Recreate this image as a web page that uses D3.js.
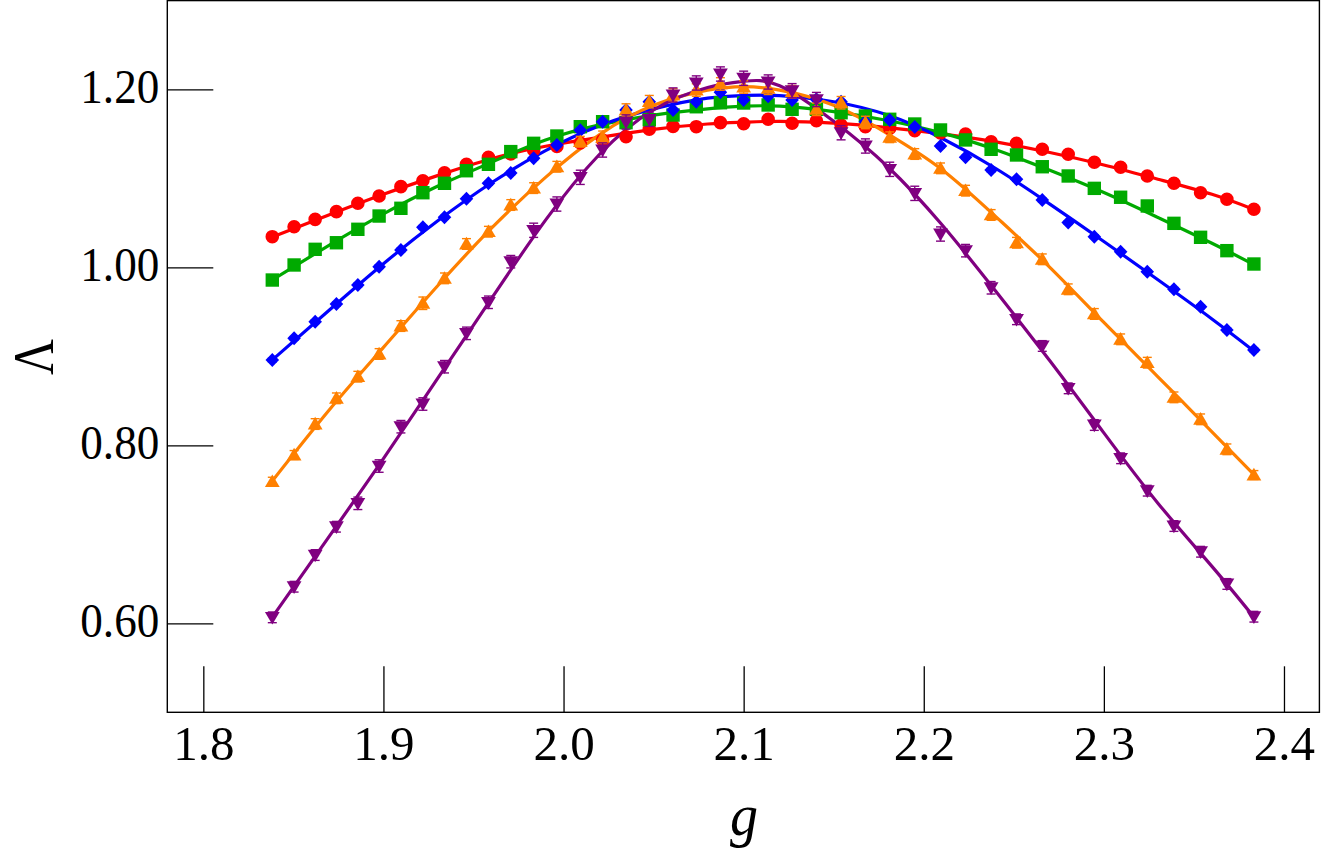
<!DOCTYPE html>
<html><head><meta charset="utf-8">
<script src="https://cdn.jsdelivr.net/npm/d3@7"></script>
<style>html,body{margin:0;padding:0;background:#fff;overflow:hidden}</style>
</head><body><svg id="c" width="1321" height="859" xmlns="http://www.w3.org/2000/svg"></svg>
<script>
// ---------------- data ----------------
const gValues = [1.8383, 1.8504, 1.8621, 1.8739, 1.8858, 1.8976, 1.9097, 1.9219, 1.9339, 1.9461, 1.9583, 1.9707, 1.9834, 1.9963, 2.0093, 2.0217, 2.0347, 2.0476, 2.0608, 2.0737, 2.0871, 2.1000, 2.1136, 2.1269, 2.1404, 2.1541, 2.1676, 2.1811, 2.1950, 2.2093, 2.2232, 2.2374, 2.2515, 2.2658, 2.2802, 2.2947, 2.3093, 2.3241, 2.3389, 2.3537, 2.3683, 2.3833];

const redData    = [1.0344, 1.0456, 1.0539, 1.0625, 1.0719, 1.0801, 1.0906, 1.0973, 1.1063, 1.1157, 1.1235, 1.1275, 1.1318, 1.1357, 1.1397, 1.1430, 1.1467, 1.1551, 1.1584, 1.1580, 1.1625, 1.1613, 1.1663, 1.1618, 1.1647, 1.1599, 1.1580, 1.1562, 1.1535, 1.1509, 1.1498, 1.1411, 1.1393, 1.1326, 1.1270, 1.1180, 1.1124, 1.1026, 1.0944, 1.0838, 1.0764, 1.0652];
const greenData  = [0.9857, 1.0026, 1.0202, 1.0276, 1.0427, 1.0576, 1.0663, 1.0838, 1.0944, 1.1085, 1.1157, 1.1300, 1.1393, 1.1475, 1.1580, 1.1636, 1.1625, 1.1658, 1.1711, 1.1804, 1.1849, 1.1846, 1.1824, 1.1775, 1.1775, 1.1737, 1.1700, 1.1663, 1.1610, 1.1543, 1.1431, 1.1326, 1.1262, 1.1130, 1.1026, 1.0887, 1.0787, 1.0689, 1.0494, 1.0337, 1.0187, 1.0037];
const blueData   = [0.8958, 0.9202, 0.9389, 0.9588, 0.9801, 1.0007, 1.0194, 1.0449, 1.0562, 1.0770, 1.0944, 1.1060, 1.1225, 1.1374, 1.1539, 1.1636, 1.1767, 1.1861, 1.1767, 1.1861, 1.1966, 1.1880, 1.1921, 1.1880, 1.1888, 1.1861, 1.1636, 1.1655, 1.1576, 1.1363, 1.1236, 1.1093, 1.0989, 1.0756, 1.0502, 1.0344, 1.0175, 0.9951, 0.9753, 0.9557, 0.9296, 0.9071];
const orangeData = [0.7591, 0.7891, 0.8239, 0.8528, 0.8771, 0.9026, 0.9340, 0.9596, 0.9876, 1.0262, 1.0400, 1.0700, 1.0890, 1.1130, 1.1411, 1.1461, 1.1767, 1.1861, 1.1936, 1.1992, 1.2060, 1.2026, 1.2011, 1.1973, 1.1775, 1.1849, 1.1627, 1.1461, 1.1273, 1.1112, 1.0861, 1.0588, 1.0276, 1.0090, 0.9753, 0.9476, 0.9191, 0.8928, 0.8539, 0.8292, 0.7955, 0.7666];
const purpleData = [0.6067, 0.6411, 0.6767, 0.7085, 0.7348, 0.7767, 0.8209, 0.8464, 0.8883, 0.9258, 0.9607, 1.0063, 1.0416, 1.0711, 1.1011, 1.1318, 1.1633, 1.1663, 1.1936, 1.2071, 1.2172, 1.2124, 1.2082, 1.1984, 1.1885, 1.1512, 1.1363, 1.1101, 1.0831, 1.0374, 1.0187, 0.9770, 0.9416, 0.9116, 0.8640, 0.8228, 0.7854, 0.7490, 0.7093, 0.6804, 0.6442, 0.6074];

const redErr    = [0.002,0.002,0.002,0.002,0.002,0.002,0.002,0.002,0.002,0.002,0.002,0.002,0.002,0.002,0.002,0.002,0.002,0.002,0.002,0.002,0.002,0.002,0.002,0.002,0.002,0.002,0.002,0.002,0.002,0.002,0.002,0.002,0.002,0.002,0.002,0.002,0.002,0.002,0.002,0.002,0.002,0.002];
const greenErr  = [0.002,0.002,0.002,0.002,0.002,0.002,0.002,0.002,0.002,0.002,0.002,0.002,0.002,0.002,0.002,0.002,0.002,0.002,0.002,0.002,0.002,0.002,0.002,0.002,0.002,0.002,0.002,0.002,0.002,0.002,0.002,0.002,0.002,0.002,0.002,0.002,0.002,0.002,0.002,0.002,0.002,0.002];
const blueErr   = [0.002,0.002,0.002,0.002,0.002,0.002,0.002,0.002,0.002,0.002,0.002,0.002,0.002,0.002,0.002,0.002,0.002,0.002,0.002,0.002,0.002,0.002,0.002,0.002,0.002,0.002,0.002,0.002,0.002,0.002,0.002,0.002,0.002,0.002,0.002,0.002,0.002,0.002,0.002,0.002,0.002,0.002];
const orangeErr = [0.005,0.005,0.006,0.006,0.006,0.006,0.006,0.007,0.006,0.006,0.006,0.006,0.006,0.006,0.006,0.007,0.007,0.007,0.007,0.007,0.007,0.007,0.007,0.007,0.007,0.007,0.007,0.006,0.006,0.006,0.006,0.006,0.006,0.006,0.006,0.006,0.006,0.006,0.006,0.006,0.006,0.005];
const purpleErr = [0.006,0.006,0.006,0.006,0.007,0.007,0.007,0.007,0.007,0.007,0.007,0.007,0.008,0.008,0.008,0.008,0.008,0.008,0.008,0.008,0.008,0.008,0.008,0.008,0.008,0.008,0.008,0.008,0.008,0.008,0.007,0.007,0.006,0.006,0.006,0.006,0.006,0.006,0.006,0.006,0.006,0.006];

// fitted curves
const fitG      = [1.8383, 1.87, 1.90, 1.93, 1.96, 1.99, 2.02, 2.05, 2.08, 2.10, 2.12, 2.15, 2.18, 2.21, 2.24, 2.27, 2.30, 2.33, 2.36, 2.3833];
const redFit    = [1.034, 1.059, 1.082, 1.103, 1.122, 1.136, 1.146, 1.155, 1.161, 1.163, 1.164, 1.162, 1.157, 1.150, 1.141, 1.129, 1.115, 1.099, 1.082, 1.065];
const greenFit  = [0.986, 1.025, 1.060, 1.091, 1.118, 1.143, 1.160, 1.171, 1.178, 1.181, 1.181, 1.175, 1.165, 1.151, 1.132, 1.109, 1.084, 1.056, 1.027, 1.003];
const blueFit   = [0.896, 0.952, 1.004, 1.052, 1.095, 1.131, 1.159, 1.178, 1.190, 1.193, 1.193, 1.186, 1.171, 1.145, 1.111, 1.071, 1.029, 0.986, 0.942, 0.906];
const orangeFit = [0.760, 0.840, 0.910, 0.979, 1.044, 1.101, 1.149, 1.182, 1.199, 1.203, 1.199, 1.182, 1.150, 1.110, 1.057, 1.000, 0.938, 0.877, 0.815, 0.767];
const purpleFit = [0.607, 0.698, 0.785, 0.875, 0.965, 1.053, 1.127, 1.177, 1.202, 1.209, 1.204, 1.164, 1.113, 1.048, 0.973, 0.895, 0.814, 0.735, 0.664, 0.607];

const xTicks = [1.8, 1.9, 2.0, 2.1, 2.2, 2.3, 2.4];
const yTicks = [0.60, 0.80, 1.00, 1.20];

// ---------------- drawing ----------------
const svg = d3.select('#c');
const FONT = '"Liberation Serif", "Times New Roman", serif';
const x = d3.scaleLinear().domain([1.78, 2.42]).range([167.3, 1320]);
const y = d3.scaleLinear().domain([0.5, 1.3]).range([712.3, 0.3]);

const series = [
  {data: redData,    err: redErr,    fit: redFit,    color: '#ff0000', shape: 'circle'},
  {data: greenData,  err: greenErr,  fit: greenFit,  color: '#00aa00', shape: 'square'},
  {data: blueData,   err: blueErr,   fit: blueFit,   color: '#0000ff', shape: 'diamond'},
  {data: orangeData, err: orangeErr, fit: orangeFit, color: '#ff8000', shape: 'up'},
  {data: purpleData, err: purpleErr, fit: purpleFit, color: '#800080', shape: 'down'}
];

const shapes = {
  circle: 'M6.8,0A6.8,6.8 0 1,1 -6.8,0A6.8,6.8 0 1,1 6.8,0Z',
  square: 'M-6.7,-6.7H6.7V6.7H-6.7Z',
  diamond: 'M0,-7L6.8,0L0,7L-6.8,0Z',
  up: 'M0,-7.2L7.4,5.4L-7.4,5.4Z',
  down: 'M0,7.2L7.4,-5.4L-7.4,-5.4Z'
};

// frame
svg.append('rect').attr('x', 167.3).attr('y', 0.6).attr('width', 1152.1).attr('height', 711.7)
  .attr('fill', 'none').attr('stroke', '#000').attr('stroke-width', 1.4);

// axes
const gx = svg.append('g').attr('transform', 'translate(0,712.3)')
  .call(d3.axisBottom(x).tickValues(xTicks).tickSize(-46).tickFormat(d3.format('.1f')));
gx.select('.domain').remove();
gx.selectAll('line').attr('stroke', '#000').attr('stroke-width', 1.3);
gx.selectAll('text').attr('y', 48.2).attr('dy', null)
  .attr('font-family', FONT).attr('font-size', 49).attr('fill', '#000');

const gy = svg.append('g').attr('transform', 'translate(167.3,0)')
  .call(d3.axisLeft(y).tickValues(yTicks).tickSize(-46).tickFormat(d3.format('.2f')));
gy.select('.domain').remove();
gy.selectAll('line').attr('stroke', '#000').attr('stroke-width', 1.3);
gy.selectAll('text').attr('x', -8).attr('y', 12.7).attr('dy', null)
  .attr('font-family', FONT).attr('font-size', 49).attr('fill', '#000')
  .attr('textLength', 79).attr('lengthAdjust', 'spacingAndGlyphs');

// axis titles
svg.append('text').attr('x', 744).attr('y', 835).attr('text-anchor', 'middle')
  .attr('font-family', FONT).attr('font-style', 'italic').attr('font-size', 60)
  .attr('textLength', 28).attr('lengthAdjust', 'spacingAndGlyphs').text('g');
svg.append('text').attr('transform', 'translate(53,357) rotate(-90)').attr('text-anchor', 'middle')
  .attr('font-family', FONT).attr('font-size', 57)
  .attr('textLength', 36).attr('lengthAdjust', 'spacingAndGlyphs').text('Λ');

// plot content
const plot = svg.append('g');
const line = d3.line().x(d => x(d[0])).y(d => y(d[1])).curve(d3.curveNatural);

series.forEach(s => {
  plot.append('path').datum(fitG.map((gv, i) => [gv, s.fit[i]]))
    .attr('d', line).attr('fill', 'none').attr('stroke', s.color).attr('stroke-width', 3.2);
});

series.forEach(s => {
  const pts = gValues.map((gv, i) => ({g: gv, v: s.data[i], e: s.err[i]}));
  const grp = plot.append('g');
  const eb = grp.selectAll('g.eb').data(pts).join('g').attr('class', 'eb')
    .attr('stroke', s.color).attr('stroke-width', 1.4);
  eb.append('line').attr('x1', d => x(d.g)).attr('x2', d => x(d.g))
    .attr('y1', d => y(d.v - d.e)).attr('y2', d => y(d.v + d.e));
  eb.append('line').attr('x1', d => x(d.g) - 4.5).attr('x2', d => x(d.g) + 4.5)
    .attr('y1', d => y(d.v - d.e)).attr('y2', d => y(d.v - d.e));
  eb.append('line').attr('x1', d => x(d.g) - 4.5).attr('x2', d => x(d.g) + 4.5)
    .attr('y1', d => y(d.v + d.e)).attr('y2', d => y(d.v + d.e));
  grp.selectAll('path.mk').data(pts).join('path').attr('class', 'mk')
    .attr('transform', d => `translate(${x(d.g)},${y(d.v)})`)
    .attr('d', shapes[s.shape]).attr('fill', s.color);
});
</script>
</body></html>
